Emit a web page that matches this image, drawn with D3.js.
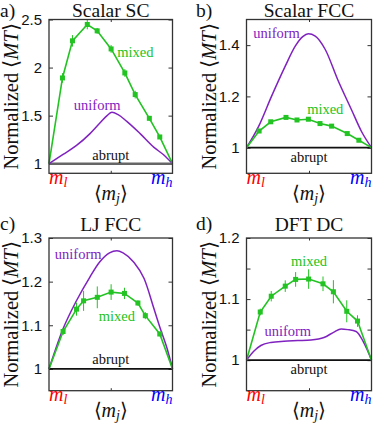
<!DOCTYPE html>
<html>
<head>
<meta charset="utf-8" />
<title>Normalized MT</title>
<style>
body { margin: 0; background: #fff; }
svg { display: block; }
.tick text { font-family: "Liberation Sans", Arial, sans-serif; font-size: 15px; fill: #111; }
</style>
</head>
<body>
<div id="chart"></div>
<script src="https://d3js.org/d3.v7.min.js"></script>
<script>
// ---- data ----
var titles = ['Scalar SC', 'Scalar FCC', 'LJ FCC', 'DFT DC'];
var letters = ['a)', 'b)', 'c)', 'd)'];

var mixedXa = [0, 0.109, 0.19, 0.31, 0.39, 0.503, 0.614, 0.698, 0.8125, 0.897, 1];
var mixedYa = [1, 1.892, 2.278, 2.448, 2.382, 2.194, 1.944, 1.719, 1.472, 1.278, 1];
var mixedEa = [0, 0.05, 0.06, 0.05, 0.03, 0.04, 0.04, 0.04, 0.02, 0.02, 0];
var unifXa = [0, 0.114, 0.223, 0.33, 0.41, 0.47, 0.51, 0.56, 0.63, 0.74, 0.85, 0.93, 1];
var unifYa = [1, 1.097, 1.19, 1.31, 1.42, 1.50, 1.535, 1.51, 1.44, 1.31, 1.17, 1.09, 1];

var mixedXb = [0, 0.101, 0.194, 0.316, 0.404, 0.495, 0.588, 0.681, 0.806, 0.899, 1];
var mixedYb = [1, 1.065, 1.101, 1.118, 1.108, 1.111, 1.094, 1.084, 1.055, 1.029, 1];
var mixedEb = [0, 0.003, 0.003, 0.003, 0.003, 0.004, 0.003, 0.004, 0.003, 0.003, 0];
var unifXb = [0, 0.096, 0.2, 0.31, 0.39, 0.45, 0.495, 0.55, 0.63, 0.73, 0.84, 0.92, 1];
var unifYb = [1, 1.082, 1.2, 1.318, 1.396, 1.433, 1.444, 1.435, 1.383, 1.265, 1.148, 1.063, 1];

var mixedXc = [0, 0.114, 0.223, 0.28, 0.391, 0.503, 0.611, 0.72, 0.78, 0.897, 1];
var mixedYc = [1, 1.0857, 1.137, 1.156, 1.164, 1.176, 1.173, 1.151, 1.122, 1.08, 1];
var mixedEc = [0, 0.008, 0.015, 0.023, 0.025, 0.018, 0.013, 0.006, 0.008, 0.005, 0];
var unifXc = [0, 0.114, 0.22, 0.33, 0.41, 0.49, 0.55, 0.6, 0.685, 0.77, 0.85, 0.897, 0.957, 1];
var unifYc = [1, 1.092, 1.155, 1.21, 1.245, 1.266, 1.271, 1.266, 1.245, 1.207, 1.138, 1.096, 1.046, 1];

var mixedXd = [0, 0.11, 0.198, 0.31, 0.393, 0.497, 0.612, 0.695, 0.802, 0.888, 1];
var mixedYd = [1, 1.0788, 1.1047, 1.1212, 1.1322, 1.1328, 1.125, 1.112, 1.08, 1.064, 1];
var mixedEd = [0, 0.0055, 0.0085, 0.0095, 0.012, 0.016, 0.012, 0.019, 0.018, 0.0095, 0];
var unifXd = [0, 0.06, 0.115, 0.195, 0.3, 0.41, 0.516, 0.62, 0.7, 0.757, 0.81, 0.877, 0.93, 0.97, 1];
var unifYd = [1, 1.015, 1.024, 1.029, 1.031, 1.032, 1.033, 1.037, 1.046, 1.051, 1.05, 1.047, 1.032, 1.015, 1];

var yDomains = [[0.9, 2.5], [0.9, 1.5], [0.95, 1.3], [0.95, 1.2]];
var yTicks = [[1, 1.5, 2, 2.5], [1, 1.2, 1.4], [1, 1.1, 1.2, 1.3], [1, 1.05, 1.1, 1.15, 1.2]];
var yTickLabels = [['1', '1.5', '2', '2.5'], ['1', '1.2', '1.4'], ['1', '1.1', '1.2', '1.3'], ['1', '', '1.1', '', '1.2']];

// label anchors (data coords)
var labelPos = [
	{ mixed: [0.70, 2.16], uniform: [0.39, 1.61], abrupt: [0.5, 1.086] },
	{ mixed: [0.63, 1.15], uniform: [0.24, 1.449], abrupt: [0.5, 0.965] },
	{ mixed: [0.55, 1.121], uniform: [0.236, 1.263], abrupt: [0.5, 1.023] },
	{ mixed: [0.5, 1.162], uniform: [0.33, 1.048], abrupt: [0.5, 0.985] }
];

var mixedX = [mixedXa, mixedXb, mixedXc, mixedXd];
var mixedY = [mixedYa, mixedYb, mixedYc, mixedYd];
var mixedE = [mixedEa, mixedEb, mixedEc, mixedEd];
var unifX = [unifXa, unifXb, unifXc, unifXd];
var unifY = [unifYa, unifYb, unifYc, unifYd];

// ---- layout ----
var width = 382, height = 425;
var serif = '"Liberation Serif", "Times New Roman", serif';
var frames = [
	{ x0: 49, x1: 172.5, y0: 19.5, y1: 173.3 },
	{ x0: 246.5, x1: 371.5, y0: 19.5, y1: 173.3 },
	{ x0: 49, x1: 172.5, y0: 238, y1: 390.7 },
	{ x0: 246.5, x1: 371.5, y0: 238, y1: 390.7 }
];
var green = '#22c322', purple = '#7f22bf';

var svg = d3.select('#chart').append('svg')
	.attr('width', width).attr('height', height);

function stext(sel, size) {
	return sel.append('text').attr('font-family', serif).attr('font-size', size).attr('fill', '#111');
}

frames.forEach(function (f, p) {
	var x = d3.scaleLinear().domain([0, 1]).range([f.x0, f.x1]);
	var y = d3.scaleLinear().domain(yDomains[p]).range([f.y1, f.y0]);
	var g = svg.append('g');

	// y axis ticks (left with labels, right mirrored)
	var yAxis = d3.axisLeft(y).tickValues(yTicks[p]).tickSize(-4).tickPadding(7)
		.tickFormat(function (d, i) { return yTickLabels[p][i]; });
	var ya = g.append('g').attr('transform', 'translate(' + f.x0 + ',0)').call(yAxis);
	ya.select('.domain').remove();
	ya.selectAll('line').attr('stroke', '#333');
	var yr = g.append('g').attr('transform', 'translate(' + f.x1 + ',0)')
		.call(d3.axisRight(y).tickValues(yTicks[p]).tickSize(-4).tickFormat(''));
	yr.select('.domain').remove();
	yr.selectAll('line').attr('stroke', '#333');
	// x center ticks
	[f.y1, f.y0].forEach(function (yy, k) {
		var xa = g.append('g').attr('transform', 'translate(0,' + yy + ')')
			.call((k === 0 ? d3.axisBottom(x) : d3.axisTop(x)).tickValues([0.5]).tickSize(-2.5).tickFormat(''));
		xa.select('.domain').remove();
		xa.selectAll('line').attr('stroke', '#333');
	});

	// abrupt
	g.append('line')
		.attr('x1', x(0)).attr('x2', x(1)).attr('y1', y(1)).attr('y2', y(1))
		.attr('stroke', p === 0 ? '#666' : '#111')
		.attr('stroke-width', p === 0 ? 2.5 : 1.6);

	// uniform
	var ud = unifX[p].map(function (v, i) { return [v, unifY[p][i]]; });
	g.append('path').datum(ud)
		.attr('d', d3.line().x(function (d) { return x(d[0]); }).y(function (d) { return y(d[1]); })
			.curve(d3.curveMonotoneX))
		.attr('fill', 'none').attr('stroke', purple).attr('stroke-width', 1.5);

	// mixed
	var md = mixedX[p].map(function (v, i) { return { x: v, y: mixedY[p][i], e: mixedE[p][i] }; });
	g.append('path').datum(md)
		.attr('d', d3.line().x(function (d) { return x(d.x); }).y(function (d) { return y(d.y); }))
		.attr('fill', 'none').attr('stroke', green).attr('stroke-width', 1.6);
	var inner = md.slice(1, md.length - 1);
	var eb = g.selectAll('.eb').data(inner).enter().append('g');
	eb.append('line')
		.attr('x1', function (d) { return x(d.x); }).attr('x2', function (d) { return x(d.x); })
		.attr('y1', function (d) { return y(d.y - d.e); }).attr('y2', function (d) { return y(d.y + d.e); })
		.attr('stroke', green).attr('stroke-width', 1);
	eb.append('rect')
		.attr('x', function (d) { return x(d.x) - 2.5; }).attr('y', function (d) { return y(d.y) - 2.5; })
		.attr('width', 5).attr('height', 5).attr('fill', green);

	// frame
	g.append('rect').attr('x', f.x0).attr('y', f.y0)
		.attr('width', f.x1 - f.x0).attr('height', f.y1 - f.y0)
		.attr('fill', 'none').attr('stroke', '#333').attr('stroke-width', 1.3);

	// curve labels
	var lp = labelPos[p];
	[['mixed', green], ['uniform', purple], ['abrupt', '#111']].forEach(function (s) {
		stext(g, 14.5)
			.attr('x', x(lp[s[0]][0])).attr('y', y(lp[s[0]][1]))
			.attr('dy', '0.35em').attr('text-anchor', 'middle')
			.attr('fill', s[1]).text(s[0]);
	});

	// title and letter
	var cx = (f.x0 + f.x1) / 2;
	stext(g, 19.5).attr('x', cx).attr('y', f.y0 - (p < 2 ? 2.5 : 7))
		.attr('text-anchor', 'middle').text(titles[p]);
	stext(g, 19.5).attr('x', p % 2 === 0 ? 0 : 196).attr('y', p < 2 ? 17 : 230)
		.text(letters[p]);

	// x labels
	var ml = stext(g, 20).attr('x', x(0)).attr('y', f.y1 + 10.5).attr('fill', '#f00');
	ml.append('tspan').attr('font-style', 'italic').text('m');
	ml.append('tspan').attr('font-style', 'italic').attr('font-size', 14).attr('dy', 3).text('l');
	var mh = stext(g, 20).attr('x', x(1)).attr('y', f.y1 + 10.5)
		.attr('text-anchor', 'end').attr('fill', '#00f');
	mh.append('tspan').attr('font-style', 'italic').text('m');
	mh.append('tspan').attr('font-style', 'italic').attr('font-size', 14).attr('dy', 3).text('h');
	var xl = stext(g, 20).attr('x', cx).attr('y', f.y1 + 26.5).attr('text-anchor', 'middle');
	xl.append('tspan').text('\u27E8');
	xl.append('tspan').attr('font-style', 'italic').text('m');
	xl.append('tspan').attr('font-style', 'italic').attr('font-size', 14).attr('dy', 3).text('j');
	xl.append('tspan').attr('dy', -3).text('\u27E9');

	// y label
	var yl = stext(g, 20.5)
		.attr('transform', 'translate(' + (f.x0 - 31) + ',' + ((f.y0 + f.y1) / 2) + ') rotate(-90)')
		.attr('text-anchor', 'middle');
	yl.append('tspan').text('Normalized \u27E8');
	yl.append('tspan').attr('font-style', 'italic').text('MT');
	yl.append('tspan').text('\u27E9');
});
</script>
</body>
</html>
